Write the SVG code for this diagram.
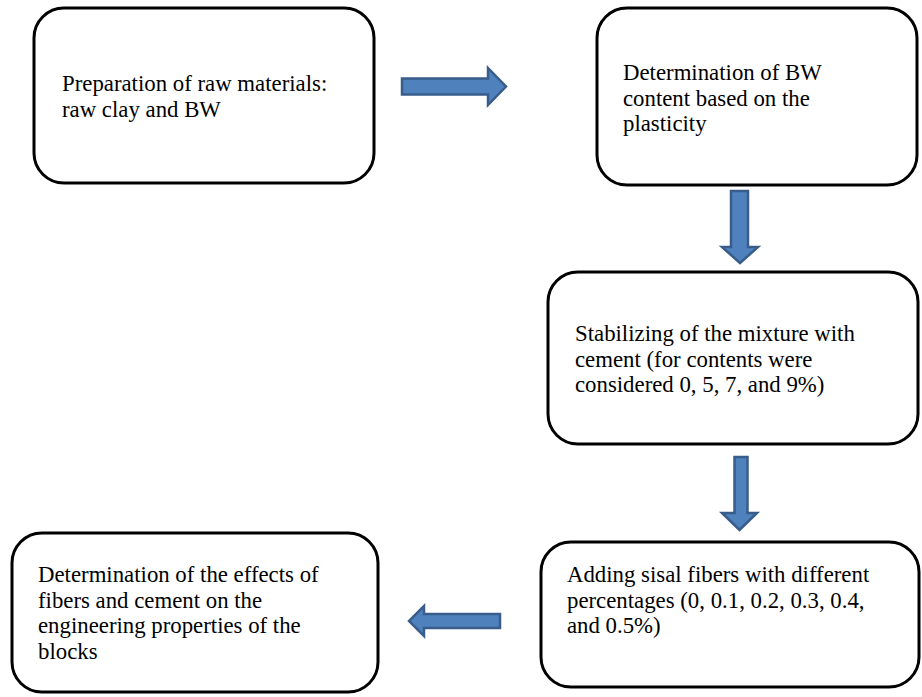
<svg xmlns="http://www.w3.org/2000/svg" width="922" height="697" viewBox="0 0 922 697">
<style>
.box{fill:#ffffff;stroke:#000000;stroke-width:3}
.lbl{font-family:"Liberation Serif","Times New Roman",serif;font-size:22.8px;fill:#000000}
.arr{fill:#4F81BD;stroke:#385D8A;stroke-width:2.5;stroke-linejoin:miter}
</style>
<rect width="922" height="697" fill="#ffffff"/>
<g id="connectors">
<path class="arr" d="M402,78.5 H488 V68 L506,86.5 L488,105 V94.5 H402 Z"/>
<path class="arr" d="M731,191 H748 V247 H758 L740,263 L722,247 H731 Z"/>
<path class="arr" d="M734.5,457 H747.5 V513 H757 L739.5,530 L722,513 H734.5 Z"/>
<path class="arr" d="M500,614 H424 V606 L409,621 L424,636 V628 H500 Z"/>
</g>
<g id="node1">
<rect class="box" x="34" y="8" width="340" height="175" rx="30"/>
<text class="lbl" x="62" y="91">Preparation of raw materials:</text>
<text class="lbl" x="62" y="117">raw clay and BW</text>
</g>
<g id="node2">
<rect class="box" x="597" y="8" width="320" height="177" rx="30"/>
<text class="lbl" x="623" y="80">Determination of BW</text>
<text class="lbl" x="623" y="105.5">content based on the</text>
<text class="lbl" x="623" y="131">plasticity</text>
</g>
<g id="node3">
<rect class="box" x="548" y="272" width="370" height="172" rx="30"/>
<text class="lbl" x="575" y="341">Stabilizing of the mixture with</text>
<text class="lbl" x="575" y="366.5">cement (for contents were</text>
<text class="lbl" x="575" y="392">considered 0, 5, 7, and 9%)</text>
</g>
<g id="node4">
<rect class="box" x="541" y="542" width="378" height="145" rx="30"/>
<text class="lbl" x="567" y="582">Adding sisal fibers with different</text>
<text class="lbl" x="567" y="607.5">percentages (0, 0.1, 0.2, 0.3, 0.4,</text>
<text class="lbl" x="567" y="633">and 0.5%)</text>
</g>
<g id="node5">
<rect class="box" x="12" y="533" width="366" height="159" rx="30"/>
<text class="lbl" x="38" y="582">Determination of the effects of</text>
<text class="lbl" x="38" y="607.5">fibers and cement on the</text>
<text class="lbl" x="38" y="633">engineering properties of the</text>
<text class="lbl" x="38" y="658.5">blocks</text>
</g>
</svg>
